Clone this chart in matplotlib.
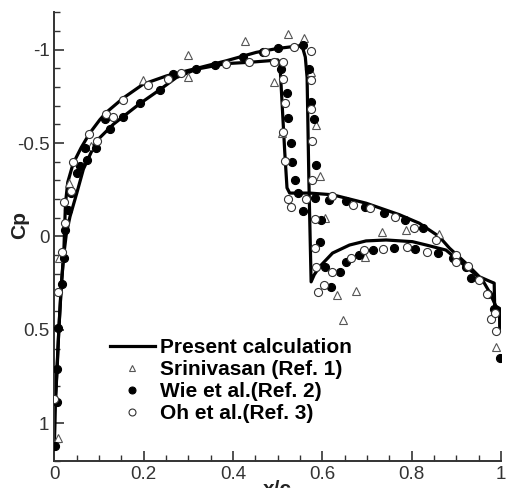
import matplotlib
matplotlib.use("Agg")
import matplotlib.pyplot as plt
from matplotlib.ticker import MultipleLocator, FuncFormatter
from matplotlib.lines import Line2D

plt.rcParams['font.family'] = ['Liberation Sans', 'DejaVu Sans']

# Present calculation: curve A (stronger shock ~0.567)
calc_a_x = [0.000, 0.001, 0.003, 0.006, 0.010, 0.016, 0.021, 0.023, 0.025, 0.030, 0.042, 0.060,
            0.079, 0.102, 0.117, 0.154, 0.199, 0.251, 0.326, 0.385, 0.452, 0.500, 0.549, 0.556,
            0.562, 0.566, 0.570, 0.575, 0.582, 0.594, 0.623, 0.661, 0.698, 0.743, 0.802, 0.833,
            0.877, 0.922, 0.959, 0.975, 0.990, 0.997, 0.998]
calc_a_cp = [1.11, 0.95, 0.85, 0.72, 0.50, 0.25, 0.10, -0.05, -0.18, -0.29, -0.39, -0.475,
             -0.552, -0.625, -0.665, -0.740, -0.815, -0.859, -0.904, -0.940, -0.985, -1.006, -1.020, -1.010,
             -0.960, -0.850, -0.300, 0.243, 0.205, 0.162, 0.089, 0.046, 0.024, 0.019, 0.028, 0.046,
             0.073, 0.162, 0.234, 0.300, 0.380, 0.390, 0.500]

# Present calculation: curve B (weaker shock ~0.515)
calc_b_x = [0.000, 0.002, 0.006, 0.010, 0.015, 0.020, 0.027, 0.035, 0.050, 0.065, 0.094, 0.132,
            0.191, 0.236, 0.273, 0.318, 0.385, 0.437, 0.480, 0.500, 0.505, 0.508, 0.516, 0.521,
            0.527, 0.572, 0.623, 0.698, 0.773, 0.817, 0.862, 0.885, 0.922, 0.952, 0.975, 0.985,
            0.986, 0.997, 0.998]
calc_b_cp = [1.11, 0.90, 0.70, 0.50, 0.28, 0.12, -0.017, -0.106, -0.230, -0.360, -0.510, -0.600,
             -0.710, -0.785, -0.850, -0.895, -0.925, -0.932, -0.940, -0.945, -0.930, -0.800, -0.450, -0.260,
             -0.232, -0.232, -0.223, -0.178, -0.116, -0.071, 0.001, 0.063, 0.144, 0.216, 0.240, 0.250,
             0.370, 0.385, 0.500]

# Srinivasan (Ref. 1)
sri_x = [0.009, 0.010, 0.033, 0.083, 0.199, 0.299, 0.299, 0.426, 0.491, 0.510, 0.523, 0.560,
         0.575, 0.585, 0.596, 0.605, 0.633, 0.646, 0.676, 0.695, 0.733, 0.788, 0.862, 0.989]
sri_cp = [1.076, 0.117, -0.286, -0.483, -0.836, -0.972, -0.854, -1.044, -0.829, -0.555, -1.083, -1.060,
          -0.880, -0.594, -0.325, -0.098, 0.315, 0.449, 0.290, 0.108, -0.026, -0.035, -0.012, 0.592]

# Wie et al. (Ref. 2)
wie_x = [0.001, 0.006, 0.005, 0.009, 0.016, 0.021, 0.023, 0.031, 0.038, 0.050, 0.057, 0.068,
         0.072, 0.094, 0.113, 0.124, 0.153, 0.191, 0.236, 0.266, 0.318, 0.360, 0.422, 0.467,
         0.500, 0.557, 0.508, 0.521, 0.524, 0.531, 0.533, 0.538, 0.545, 0.557, 0.570, 0.575,
         0.582, 0.585, 0.583, 0.598, 0.616, 0.654, 0.695, 0.739, 0.786, 0.825, 0.596, 0.605,
         0.620, 0.639, 0.653, 0.683, 0.714, 0.761, 0.808, 0.860, 0.892, 0.922, 0.933, 0.971,
         0.985, 0.998]
wie_cp = [1.120, 0.888, 0.709, 0.490, 0.252, 0.113, -0.035, -0.142, -0.232, -0.340, -0.375, -0.474,
          -0.410, -0.474, -0.626, -0.573, -0.641, -0.712, -0.784, -0.868, -0.895, -0.920, -0.958, -0.988,
          -1.010, -1.027, -0.895, -0.770, -0.635, -0.501, -0.400, -0.300, -0.232, -0.136, -0.895, -0.718,
          -0.626, -0.383, -0.205, -0.089, -0.196, -0.187, -0.160, -0.125, -0.089, -0.047, 0.031, 0.162,
          0.270, 0.189, 0.135, 0.102, 0.073, 0.060, 0.066, 0.088, 0.117, 0.162, 0.225, 0.310,
          0.386, 0.650]

# Oh et al. (Ref. 3)
oh_x = [0.000, 0.009, 0.016, 0.023, 0.022, 0.038, 0.042, 0.078, 0.096, 0.115, 0.132, 0.154,
        0.210, 0.255, 0.283, 0.385, 0.437, 0.471, 0.493, 0.512, 0.537, 0.574, 0.512, 0.575,
        0.516, 0.575, 0.512, 0.577, 0.516, 0.578, 0.523, 0.529, 0.564, 0.583, 0.622, 0.668,
        0.706, 0.763, 0.806, 0.855, 0.583, 0.585, 0.590, 0.603, 0.621, 0.665, 0.694, 0.736,
        0.790, 0.835, 0.900, 0.900, 0.926, 0.950, 0.968, 0.978, 0.986, 0.989]
oh_cp = [0.870, 0.297, 0.082, -0.071, -0.182, -0.241, -0.397, -0.546, -0.510, -0.653, -0.639, -0.728,
         -0.809, -0.841, -0.877, -0.922, -0.935, -0.985, -0.934, -0.936, -1.012, -0.990, -0.845, -0.836,
         -0.712, -0.684, -0.560, -0.510, -0.406, -0.304, -0.202, -0.160, -0.202, -0.092, -0.214, -0.169,
         -0.152, -0.103, -0.044, 0.019, 0.063, 0.162, 0.300, 0.261, 0.191, 0.115, 0.075, 0.067,
         0.056, 0.082, 0.100, 0.135, 0.160, 0.234, 0.310, 0.442, 0.410, 0.508]

labels = ["Present calculation", "Srinivasan (Ref. 1)", "Wie et al.(Ref. 2)", "Oh et al.(Ref. 3)"]
x_ticks = [0, 0.2, 0.4, 0.6, 0.8, 1.0]
y_ticks = [-1, -0.5, 0, 0.5, 1]

fig = plt.figure(figsize=(5.08, 4.88), dpi=100)
ax = fig.add_axes([0.107, 0.056, 0.879, 0.919])

ax.plot(calc_a_x, calc_a_cp, color='black', lw=2.3, zorder=2)
ax.plot(calc_b_x, calc_b_cp, color='black', lw=2.3, zorder=2)
ms = 5.8
ax.plot(sri_x, sri_cp, ls='none', marker='^', ms=ms, mfc='white', mec='#555555', mew=0.8, zorder=3)
ax.plot(wie_x, wie_cp, ls='none', marker='o', ms=ms, mfc='black', mec='black', mew=0.8, zorder=3)
ax.plot(oh_x, oh_cp, ls='none', marker='o', ms=ms, mfc='white', mec='#333333', mew=0.8, zorder=4)

ax.set_xlim(0, 1)
ax.set_ylim(1.2, -1.2)
for s in ['top', 'right']:
    ax.spines[s].set_visible(False)
for s in ['left', 'bottom']:
    ax.spines[s].set_linewidth(1.4)
    ax.spines[s].set_color('#333333')

ax.set_xticks(x_ticks)
ax.set_yticks(y_ticks)
ax.xaxis.set_minor_locator(MultipleLocator(0.05))
ax.yaxis.set_minor_locator(MultipleLocator(0.1))
fmt = FuncFormatter(lambda v, p: '%g' % v)
ax.xaxis.set_major_formatter(fmt)
ax.yaxis.set_major_formatter(fmt)
ax.tick_params(which='major', direction='in', length=7, width=1.2, color='#333333',
               labelsize=13.5, labelcolor='#333333')
ax.tick_params(which='minor', direction='in', length=4, width=1.0, color='#333333')

fig.text(20 / 508, 1 - 225 / 488, 'Cp', rotation=90, ha='center', va='center',
         fontsize=15, fontweight='bold', color='#222222')
fig.text(277 / 508, 1 - 480 / 488, 'x/c', ha='center', va='top',
         fontsize=15, fontweight='bold', color='#222222')

handles = [
    Line2D([], [], color='black', lw=2.3),
    Line2D([], [], ls='none', marker='^', ms=5, mfc='white', mec='#555555', mew=0.8),
    Line2D([], [], ls='none', marker='o', ms=5, mfc='black', mec='black', mew=0.8),
    Line2D([], [], ls='none', marker='o', ms=5, mfc='white', mec='#333333', mew=0.8),
]
leg = fig.legend(handles, labels, loc='upper left', bbox_to_anchor=(110 / 508, 1 - 338 / 488),
                 bbox_transform=fig.transFigure, frameon=False, borderpad=0, borderaxespad=0,
                 handlelength=2.15, handletextpad=0.25, labelspacing=0.15,
                 prop={'weight': 'bold', 'size': 15})

fig.savefig('out.png', dpi=100)
